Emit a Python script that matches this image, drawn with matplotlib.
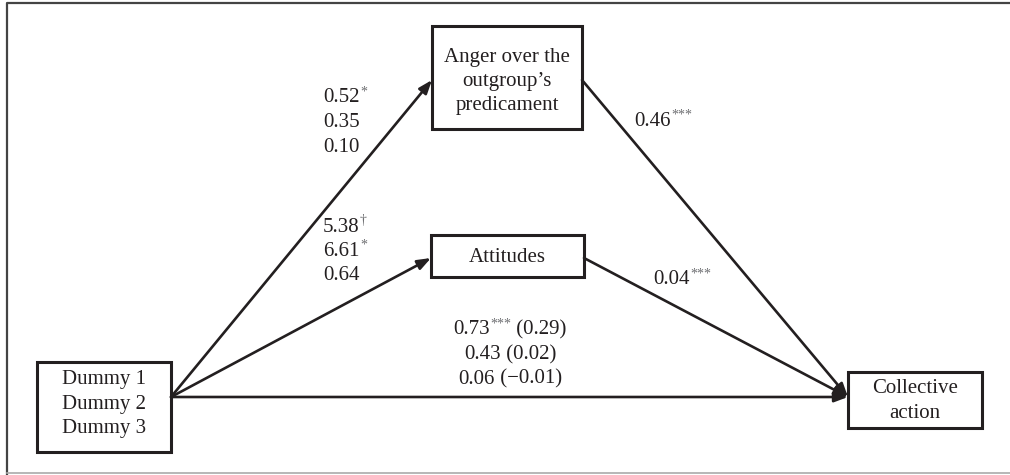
import matplotlib
matplotlib.use("Agg")
import matplotlib.pyplot as plt
from matplotlib.patches import Rectangle

plt.rcParams['font.family'] = ['Liberation Serif', 'DejaVu Serif']

# path coefficients per dummy (a paths, b paths, c (c') paths)
anger_a = ["0.52", "0.35", "0.10"]
anger_a_sig = ["*", "", ""]
att_a = ["5.38", "6.61", "0.64"]
att_a_sig = ["\u2020", "*", ""]
anger_b, anger_b_sig = "0.46", "***"
att_b, att_b_sig = "0.04", "***"
total_c = ["0.73", "0.43", "0.06"]
total_c_sig = ["***", "", ""]
direct_c = ["0.29", "0.02", "\u22120.01"]

node_labels = {
    "dummy": "Dummy 1\nDummy 2\nDummy 3",
    "anger": "Anger over the\noutgroup\u2019s\npredicament",
    "att": "Attitudes",
    "ca": "Collective\naction",
}

FS = 15
SUP = 10
INK = "#231f20"

fig = plt.figure(figsize=(10.10, 4.75), dpi=100)
ax = fig.add_axes([0, 0, 1, 1])
ax.set_xlim(0, 1010); ax.set_ylim(475, 0)
ax.axis("off")
rend = fig.canvas.get_renderer()


def width(s, fs):
    t = ax.text(0, 0, s, fontsize=fs)
    w = t.get_window_extent(rend).width
    t.remove()
    return w  # pixels == data units here


def label(x, y, parts, ha="left"):
    # parts: list of (text, superscript?)
    ws = [width(s, SUP if sup else FS) for s, sup in parts]
    if ha == "center":
        x -= sum(ws) / 2
    for (s, sup), w in zip(parts, ws):
        if sup:
            ax.text(x + 0.5, y - 6, s, fontsize=SUP, color="#6d6e71",
                    ha="left", va="center")
        else:
            ax.text(x, y, s, fontsize=FS, color=INK, ha="left", va="center")
        x += w


# outer frame
ax.plot([7, 7, 1010], [474, 3, 3], color="#444444", lw=1.6)
ax.plot([7, 1010], [473, 473], color="#aaaaaa", lw=1.2)

# nodes: x0, y0, x1, y1, text y-shift
boxes = {
    "dummy": (37, 362, 171, 452, -3),
    "anger": (432, 26, 582, 129, 4),
    "att": (431, 235, 584, 277, 1),
    "ca": (848, 372, 982, 428, 1),
}
for k, (x0, y0, x1, y1, dy) in boxes.items():
    ax.add_patch(Rectangle((x0, y0), x1 - x0, y1 - y0, fill=False,
                           edgecolor=INK, lw=2.2, zorder=3))
    ax.text((x0 + x1) / 2, (y0 + y1) / 2 + dy, node_labels[k], ha="center",
            va="center", fontsize=FS, color=INK, linespacing=1.38)


def arrow(p0, p1):
    ax.annotate("", xy=p1, xytext=p0,
                arrowprops=dict(arrowstyle="-|>,head_length=0.8,head_width=0.3",
                                color=INK, lw=1.9, shrinkA=0, shrinkB=0), zorder=2)


src = (171, 397)
arrow(src, (432, 80))
arrow(src, (431, 258))
arrow(src, (848, 397))
arrow((582, 80), (848, 397))
arrow((584, 258), (848, 397))

# coefficient labels
for i in range(3):
    label(323, 98 + 24.5 * i, [(anger_a[i], False), (anger_a_sig[i], True)])
    label(323, 227 + 24.5 * i, [(att_a[i], False), (att_a_sig[i], True)])
    label(510, 330 + 24.5 * i,
          [(total_c[i], False), (total_c_sig[i], True),
           (" (" + direct_c[i] + ")", False)], ha="center")

label(634, 121, [(anger_b, False), (anger_b_sig, True)])
label(653, 280, [(att_b, False), (att_b_sig, True)])

fig.savefig("out.png", dpi=100)
